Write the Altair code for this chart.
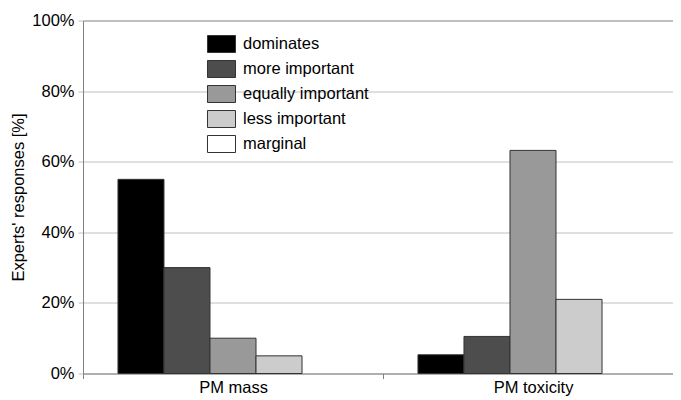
import altair as alt
import pandas as pd

categories = ["PM mass", "PM toxicity"]
responses = ["dominates", "more important", "equally important", "less important", "marginal"]
pm_mass = [55.0, 30.0, 10.0, 5.0, 0.0]
pm_toxicity = [5.3, 10.5, 63.2, 21.0, 0.0]
colors = ["#000000", "#4d4d4d", "#999999", "#cccccc", "#ffffff"]
y_ticks = [0, 20, 40, 60, 80, 100]

rows = []
for cat, vals in zip(categories, [pm_mass, pm_toxicity]):
    for r, v in zip(responses, vals):
        rows.append({"category": cat, "response": r, "value": v})
df = pd.DataFrame(rows)

FONT = "Liberation Sans"
FS = 16.5

chart = alt.Chart(df).mark_bar(stroke="#333333", strokeWidth=1).encode(
    x=alt.X("category:N", sort=categories,
            scale=alt.Scale(paddingInner=0, paddingOuter=0, range=[0, 600]),
            axis=alt.Axis(title=None, labelAngle=0, tickBand="extent", tickSize=5,
                          tickColor="#808080", domainColor="#808080", labelPadding=1,
                          grid=False, labelFont=FONT, labelFontSize=FS, labelColor="#000000")),
    xOffset=alt.XOffset("response:N", sort=responses,
                        scale=alt.Scale(paddingInner=0, paddingOuter=0.76)),
    y=alt.Y("value:Q", scale=alt.Scale(domain=[0, 100], nice=False),
            axis=alt.Axis(title="Experts' responses [%]", values=y_ticks,
                          labelExpr="datum.value + '%'", tickSize=5,
                          tickColor="#c0c0c0",
                          gridColor=alt.condition("datum.value == 100",
                                                  alt.value("#808080"), alt.value("#c0c0c0")),
                          domainColor="#808080", labelPadding=4, titlePadding=5,
                          labelFont=FONT, labelFontSize=FS, labelColor="#000000",
                          titleFont=FONT, titleFontSize=FS, titleFontWeight="normal",
                          titleColor="#000000")),
    strokeOpacity=alt.condition("datum.value == 0", alt.value(0), alt.value(1)),
    color=alt.Color("response:N", sort=responses,
                    scale=alt.Scale(domain=responses, range=colors),
                    legend=alt.Legend(title=None, orient="none", legendX=128, legendY=13,
                                      symbolType="M-1.4,-0.85H1.4V0.85H-1.4Z", symbolSize=400,
                                      symbolStrokeColor="#333333", symbolStrokeWidth=1,
                                      symbolOpacity=1,
                                      labelOffset=11, rowPadding=4,
                                      labelFont=FONT, labelFontSize=FS, labelColor="#000000")),
).properties(
    width=590, height=353,
    autosize=alt.AutoSizeParams(type="none"),
    padding={"top": 12.5, "left": 75, "right": 0, "bottom": 22},
).configure_view(
    stroke=None
)

chart.save("out.html", embed_options={"renderer": "svg", "actions": False})
